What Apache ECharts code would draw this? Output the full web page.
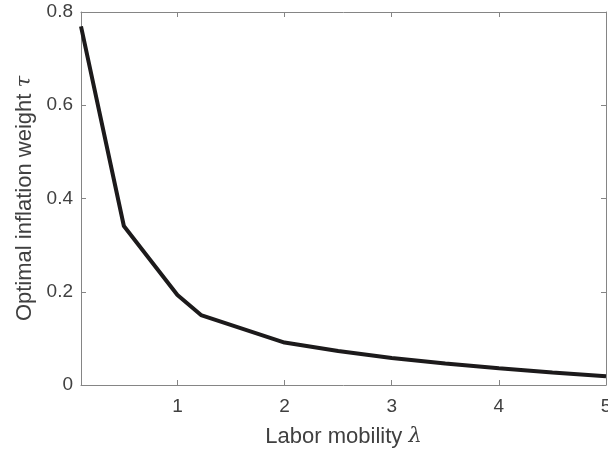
<!DOCTYPE html>
<html>
<head>
<meta charset="utf-8">
<script src="https://cdn.jsdelivr.net/npm/echarts@6/dist/echarts.min.js"></script>
<style>
  html, body { margin: 0; padding: 0; background: #fff; }
  #main { width: 608px; height: 454px; }
</style>
</head>
<body>
<div id="main"></div>
<script>
// labor mobility (x) and optimal inflation weight (y)
var lambdaVals = [0.1, 0.5, 1, 1.22, 2, 2.5, 3, 3.5, 4, 4.5, 5]
var tauVals = [0.769, 0.341, 0.193, 0.150, 0.091, 0.073, 0.058, 0.046, 0.036, 0.027, 0.019]
var xTicks = [1, 2, 3, 4, 5]
var yTicks = [0, 0.2, 0.4, 0.6, 0.8]

var axisColor = '#858585'
var textColor = '#404040'
var fontFam = '"Liberation Sans", Arial, sans-serif'

var chart = echarts.init(document.getElementById('main'))

var pts = lambdaVals.map(function (x, i) { return [x, tauVals[i]] })

var nameStyle = {
  color: textColor, fontSize: 22, fontFamily: fontFam,
  rich: { i: { fontStyle: 'italic', fontFamily: '"DejaVu Serif", serif', fontSize: 21, color: textColor } }
}

chart.setOption({
  animation: false,
  grid: { left: 81, right: 2, top: 12, bottom: 69, outerBoundsMode: 'none', containLabel: false },
  xAxis: [{
    type: 'value',
    min: 0.1,
    max: 5,
    position: 'bottom',
    name: 'Labor mobility {i|λ}',
    nameLocation: 'middle',
    nameGap: 41,
    nameTextStyle: nameStyle,
    axisLine: { show: true, lineStyle: { color: axisColor, width: 1 } },
    axisTick: { show: true, inside: true, length: 5, customValues: xTicks, lineStyle: { color: axisColor } },
    axisLabel: { customValues: xTicks, margin: 12, color: textColor, fontSize: 19, fontFamily: fontFam, hideOverlap: false },
    splitLine: { show: false }
  }, {
    type: 'value',
    min: 0.1,
    max: 5,
    position: 'top',
    axisLine: { show: true, onZero: false, lineStyle: { color: axisColor, width: 1 } },
    axisTick: { show: true, inside: true, length: 5, customValues: xTicks, lineStyle: { color: axisColor } },
    axisLabel: { show: false },
    splitLine: { show: false }
  }],
  yAxis: [{
    type: 'value',
    min: 0,
    max: 0.8,
    interval: 0.2,
    position: 'left',
    name: 'Optimal inflation weight {i|τ}',
    nameLocation: 'middle',
    nameGap: 45,
    nameTextStyle: nameStyle,
    axisLine: { show: true, lineStyle: { color: axisColor, width: 1 } },
    axisTick: { show: true, inside: true, length: 5, lineStyle: { color: axisColor } },
    axisLabel: {
      margin: 8, color: textColor, fontSize: 19, fontFamily: fontFam,
      formatter: function (v) { return v === 0 ? '0' : v.toFixed(1) }
    },
    splitLine: { show: false }
  }, {
    type: 'value',
    min: 0,
    max: 0.8,
    interval: 0.2,
    position: 'right',
    axisLine: { show: true, onZero: false, lineStyle: { color: axisColor, width: 1 } },
    axisTick: { show: true, inside: true, length: 5, lineStyle: { color: axisColor } },
    axisLabel: { show: false },
    splitLine: { show: false }
  }],
  series: [{
    type: 'line',
    data: pts,
    showSymbol: false,
    smooth: false,
    lineStyle: { color: '#1c1a1b', width: 4 },
    clip: false
  }]
})
</script>
</body>
</html>
